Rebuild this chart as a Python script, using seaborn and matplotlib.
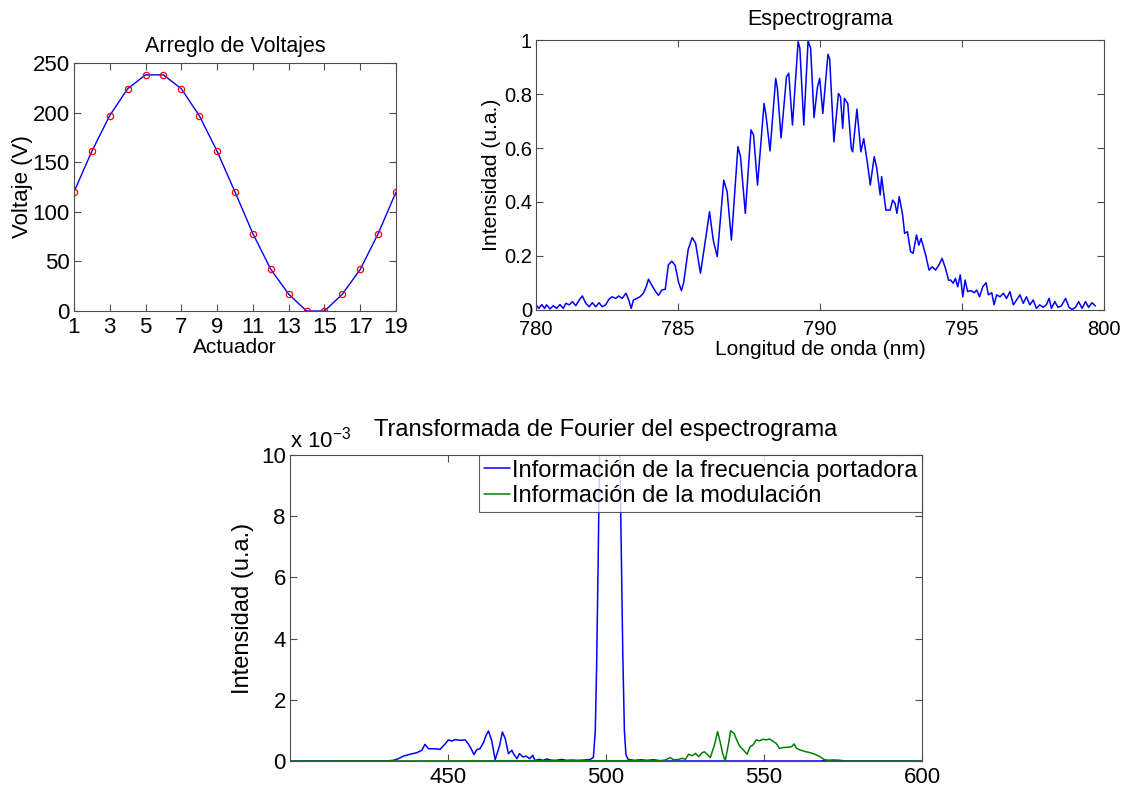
import numpy as np
import pandas as pd
import matplotlib
matplotlib.use('Agg')
import matplotlib.pyplot as plt
import seaborn as sns

# Voltage array applied to each actuator
actuador = list(range(1, 20))
voltaje = [120, 161, 197, 224, 238, 238, 224, 197, 161, 120,
           78, 42, 17, 0, 0, 17, 42, 78, 120]

# Measured spectrum (wavelength in nm, normalised intensity)
spec_nm = [780.0, 780.1, 780.2, 780.3, 780.37, 780.49, 780.61, 780.72, 780.84, 780.96,
           781.05, 781.17, 781.28, 781.4, 781.52, 781.63, 781.75, 781.87, 781.98, 782.1,
           782.22, 782.33, 782.45, 782.57, 782.68, 782.8, 782.92, 783.03, 783.17, 783.27,
           783.35, 783.43, 783.55, 783.66, 783.78, 783.88, 783.96, 784.08, 784.2, 784.31,
           784.43, 784.55, 784.66, 784.78, 784.9, 785.02, 785.12, 785.2, 785.36, 785.5,
           785.62, 785.79, 785.94, 786.11, 786.24, 786.38, 786.61, 786.73, 786.88, 787.11,
           787.2, 787.37, 787.57, 787.66, 787.8, 788.03, 788.1, 788.24, 788.44, 788.5,
           788.63, 788.82, 788.9, 789.03, 789.23, 789.29, 789.43, 789.58, 789.67, 789.79,
           789.91, 789.99, 790.1, 790.28, 790.34, 790.49, 790.65, 790.72, 790.8, 790.86,
           790.98, 791.1, 791.15, 791.3, 791.44, 791.54, 791.68, 791.77, 791.91, 792.0,
           792.12, 792.17, 792.32, 792.47, 792.56, 792.64, 792.71, 792.79, 792.91, 792.98,
           793.08, 793.19, 793.28, 793.4, 793.48, 793.56, 793.72, 793.84, 793.95, 794.07,
           794.19, 794.3, 794.42, 794.53, 794.6, 794.69, 794.77, 794.85, 794.94, 795.03,
           795.11, 795.2, 795.31, 795.43, 795.52, 795.62, 795.73, 795.85, 795.93, 796.05,
           796.13, 796.22, 796.34, 796.46, 796.57, 796.69, 796.81, 796.92, 797.04, 797.16,
           797.27, 797.39, 797.51, 797.62, 797.74, 797.86, 797.97, 798.07, 798.15, 798.27,
           798.38, 798.5, 798.65, 798.77, 798.88, 799.0, 799.11, 799.23, 799.35, 799.46,
           799.58, 799.7]
spec_int = [0.019, 0.006, 0.02, 0.006, 0.019, 0.004, 0.016, 0.006, 0.02, 0.006,
            0.025, 0.019, 0.031, 0.016, 0.037, 0.052, 0.025, 0.012, 0.027, 0.012,
            0.027, 0.012, 0.019, 0.04, 0.049, 0.043, 0.052, 0.043, 0.062, 0.035,
            0.006, 0.037, 0.043, 0.049, 0.062, 0.086, 0.114, 0.091, 0.07, 0.054,
            0.074, 0.077, 0.167, 0.181, 0.165, 0.102, 0.072, 0.102, 0.225, 0.268,
            0.247, 0.136, 0.241, 0.364, 0.259, 0.198, 0.481, 0.438, 0.259, 0.605,
            0.568, 0.358, 0.667, 0.648, 0.463, 0.765, 0.72, 0.589, 0.858, 0.82,
            0.637, 0.864, 0.877, 0.685, 0.994, 0.97, 0.685, 0.996, 0.97, 0.713,
            0.825, 0.858, 0.728, 0.947, 0.93, 0.623, 0.802, 0.79, 0.673, 0.784,
            0.764, 0.599, 0.586, 0.744, 0.586, 0.635, 0.537, 0.463, 0.568, 0.525,
            0.426, 0.494, 0.37, 0.37, 0.407, 0.395, 0.358, 0.42, 0.352, 0.284,
            0.29, 0.216, 0.21, 0.278, 0.24, 0.265, 0.204, 0.148, 0.16, 0.148,
            0.167, 0.191, 0.154, 0.11, 0.111, 0.099, 0.117, 0.086, 0.13, 0.049,
            0.111, 0.068, 0.072, 0.064, 0.074, 0.049, 0.086, 0.101, 0.056, 0.064,
            0.019, 0.056, 0.049, 0.062, 0.043, 0.068, 0.019, 0.037, 0.056, 0.025,
            0.049, 0.019, 0.037, 0.006, 0.019, 0.01, 0.019, 0.043, 0.006, 0.031,
            0.01, 0.015, 0.043, 0.01, 0.002, 0.01, 0.031, 0.006, 0.031, 0.01,
            0.027, 0.015]

# Fourier transform of the spectrum (intensity in units of 1e-3)
fft_blue_f = [400, 430.1, 432.7, 434.3, 435.9, 438.0, 440.1, 441.7, 442.7, 443.8,
              445.9, 447.5, 449.1, 450.1, 451.2, 452.2, 453.8, 455.4, 456.4, 457.2,
              458.2, 459.1, 460.1, 461.2, 462.0, 462.8, 463.8, 464.9, 466.3, 467.2,
              468.1, 469.1, 470.2, 470.7, 471.8, 472.6, 473.7, 474.7, 475.8, 476.8,
              477.5, 478.9, 480.1, 481.2, 482.5, 484.0, 486.0, 487.5, 489.0, 491.0,
              493.0, 495.0, 496.0, 496.6, 497.0, 497.5, 498.0, 499.0, 500.5, 502.0,
              503.5, 504.3, 504.8, 505.3, 505.8, 506.3, 507.0, 509.0, 511.0, 513.0,
              515.0, 517.0, 519.0, 568.0, 570.0, 572.0, 574.0, 576.0, 600]
fft_blue_v = [0, 0, 0.02, 0.075, 0.16, 0.22, 0.27, 0.35, 0.545, 0.4,
              0.4, 0.38, 0.56, 0.69, 0.65, 0.7, 0.675, 0.69, 0.56, 0.42,
              0.21, 0.37, 0.4, 0.6, 0.83, 0.98, 0.675, 0.04, 0.5, 0.95,
              0.73, 0.24, 0.35, 0.24, 0.075, 0.24, 0.13, 0.16, 0.075, 0.185,
              0.02, 0.055, 0.02, 0.065, 0.03, 0.02, 0.05, 0.02, 0.03, 0.02,
              0.03, 0.05, 0.12, 1.0, 3.0, 6.5, 10.5, 20.0, 28.0, 24.0,
              16.0, 10.5, 7.0, 3.5, 1.0, 0.2, 0.05, 0.02, 0.04, 0.02,
              0.04, 0.01, 0, 0, 0.02, 0.03, 0.02, 0, 0]
fft_green_f = [400, 517.1, 518.7, 520.3, 521.4, 523.0, 524.1, 525.1, 526.1, 527.2,
               528.3, 529.3, 530.4, 531.1, 532.0, 533.0, 534.3, 535.3, 536.1, 536.9,
               537.7, 538.8, 539.4, 540.5, 541.6, 542.4, 543.5, 544.6, 545.6, 546.5,
               547.5, 548.6, 549.6, 550.7, 551.7, 552.8, 553.8, 554.9, 556.1, 557.7,
               558.8, 559.5, 560.3, 561.4, 563.0, 564.6, 566.1, 567.7, 569.0, 570.4,
               572.0, 600]
fft_green_v = [0, 0.01, 0.03, 0.11, 0.04, 0.05, 0.09, 0.05, 0.22, 0.17,
               0.25, 0.14, 0.27, 0.3, 0.22, 0.11, 0.52, 0.96, 0.63, 0.25,
               0, 0.58, 0.99, 0.9, 0.63, 0.47, 0.36, 0.22, 0.47, 0.52,
               0.69, 0.66, 0.71, 0.69, 0.72, 0.65, 0.58, 0.41, 0.44, 0.45,
               0.47, 0.56, 0.41, 0.36, 0.31, 0.27, 0.22, 0.14, 0.05, 0.01,
               0, 0]

sns.set_style('white')
plt.rcParams['font.family'] = ['Liberation Sans', 'DejaVu Sans']
plt.rcParams['mathtext.default'] = 'regular'
plt.rcParams['text.color'] = 'black'
plt.rcParams['axes.labelcolor'] = 'black'
plt.rcParams['xtick.labelcolor'] = 'black'
plt.rcParams['ytick.labelcolor'] = 'black'


def matlab_axes(ax, size, xpad=5):
    # boxed axes with inward ticks on every side
    for s in ax.spines.values():
        s.set_visible(True)
        s.set_color('0.3')
        s.set_linewidth(0.8)
    ax.tick_params(direction='in', length=5, width=0.8, color='0.3',
                   labelcolor='black', top=True, right=True, bottom=True,
                   left=True, labelsize=size, pad=3)
    ax.tick_params(axis='x', pad=xpad)


fig = plt.figure(figsize=(11.29, 7.89), dpi=100)

# --- Arreglo de Voltajes ---
ax1 = fig.add_axes([0.0655, 0.6058, 0.2853, 0.3144])
df_v = pd.DataFrame({'Actuador': actuador, 'Voltaje': voltaje})
sns.lineplot(data=df_v, x='Actuador', y='Voltaje', ax=ax1, color='blue',
             linewidth=1.0, estimator=None)
ax1.plot(df_v['Actuador'], df_v['Voltaje'], 'o', mfc='none', mec='red',
         ms=4.5, mew=0.9)
ax1.set_xlim(1, 19)
ax1.set_ylim(0, 250)
ax1.set_xticks(range(1, 20, 2))
ax1.set_yticks(range(0, 251, 50))
matlab_axes(ax1, 16, xpad=4)
ax1.set_title('Arreglo de Voltajes', fontsize=15.5, pad=8)
ax1.set_xlabel('Actuador', fontsize=15, labelpad=0)
ax1.set_ylabel('Voltaje (V)', fontsize=16, labelpad=0)

# --- Espectrograma ---
ax2 = fig.add_axes([0.4748, 0.6071, 0.5030, 0.3422])
df_s = pd.DataFrame({'nm': spec_nm, 'I': spec_int})
sns.lineplot(data=df_s, x='nm', y='I', ax=ax2, color='blue',
             linewidth=1.1, estimator=None, sort=False)
ax2.set_xlim(780, 800)
ax2.set_ylim(0, 1)
ax2.set_xticks([780, 785, 790, 795, 800])
ax2.set_yticks([0, 0.2, 0.4, 0.6, 0.8, 1])
ax2.set_yticklabels(['0', '0.2', '0.4', '0.6', '0.8', '1'])
matlab_axes(ax2, 14.5, xpad=7)
ax2.set_title('Espectrograma', fontsize=15.5, pad=11)
ax2.set_xlabel('Longitud de onda (nm)', fontsize=15, labelpad=1)
ax2.set_ylabel('Intensidad (u.a.)', fontsize=15.2, labelpad=2)

# --- Transformada de Fourier ---
ax3 = fig.add_axes([0.2569, 0.0355, 0.5598, 0.3878])
df_b = pd.DataFrame({'f': fft_blue_f, 'v': fft_blue_v})
df_g = pd.DataFrame({'f': fft_green_f, 'v': fft_green_v})
sns.lineplot(data=df_b, x='f', y='v', ax=ax3, color='blue', linewidth=1.1,
             estimator=None, sort=False,
             label='Información de la frecuencia portadora')
sns.lineplot(data=df_g, x='f', y='v', ax=ax3, color='green', linewidth=1.1,
             estimator=None, sort=False,
             label='Información de la modulación')
ax3.set_xlim(400, 600)
ax3.set_ylim(0, 10)
ax3.set_xticks([450, 500, 550, 600])
ax3.set_yticks([0, 2, 4, 6, 8, 10])
matlab_axes(ax3, 16, xpad=4)
ax3.set_xlabel('')
ax3.set_ylabel('Intensidad (u.a.)', fontsize=17, labelpad=5)
ax3.set_title('Transformada de Fourier del espectrograma', fontsize=17, pad=14)
ax3.text(0.0, 1.008, r'x 10$^{-3}$', transform=ax3.transAxes,
         ha='left', va='bottom', fontsize=16)
leg = ax3.legend(loc='upper right', fontsize=17, frameon=True, fancybox=False,
                 borderaxespad=0.0, handlelength=1.1, handletextpad=0.1,
                 labelspacing=0.15, borderpad=0.2)
leg.get_frame().set_edgecolor('0.2')
leg.get_frame().set_linewidth(0.8)

fig.savefig('out.png', dpi=100)
